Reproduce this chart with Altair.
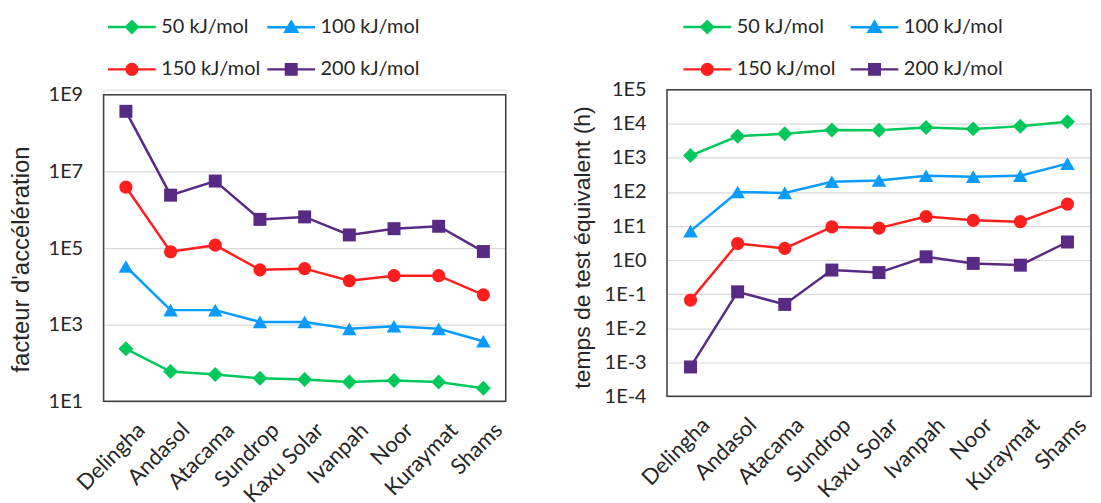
import altair as alt
import pandas as pd

sites = ["Delingha", "Andasol", "Atacama", "Sundrop", "Kaxu Solar",
         "Ivanpah", "Noor", "Kuraymat", "Shams"]
series = ["50 kJ/mol", "100 kJ/mol", "150 kJ/mol", "200 kJ/mol"]

# left panel: facteur d'accélération
accel_50 = [235, 60, 50, 40, 37, 32, 35, 32, 22]
accel_100 = [3.3e4, 2.4e3, 2.4e3, 1.18e3, 1.18e3, 780, 910, 780, 370]
accel_150 = [3.9e6, 8.0e4, 1.19e5, 2.7e4, 2.9e4, 1.4e4, 1.9e4, 1.9e4, 6.0e3]
accel_200 = [3.7e8, 2.4e6, 5.6e6, 5.6e5, 6.5e5, 2.2e5, 3.2e5, 3.7e5, 8.1e4]

# right panel: temps de test équivalent (h)
time_50 = [1170, 4300, 5130, 6600, 6500, 7800, 7100, 8500, 11500]
time_100 = [7.1, 100, 94, 200, 218, 300, 282, 300, 680]
time_150 = [0.067, 3.07, 2.2, 9.4, 8.7, 19, 14.7, 13.4, 44]
time_200 = [7.3e-4, 0.117, 0.05, 0.51, 0.43, 1.25, 0.8, 0.71, 3.4]

left_ticks = [1e1, 1e3, 1e5, 1e7, 1e9]
right_ticks = [1e-4, 1e-3, 1e-2, 1e-1, 1e0, 1e1, 1e2, 1e3, 1e4, 1e5]

colors = ["#00C85A", "#0A9BFF", "#FF1E1E", "#582A84"]
shapes = ["diamond", "triangle-up", "circle", "square"]
sizes = [225, 215, 175, 170]
legend_paths = [
    "M-1.6,0H1.6M-0.38,0L0,-0.38L0.38,0L0,0.38Z",
    "M-1.6,0H1.6M-0.4,0.3L0,-0.38L0.4,0.3Z",
    "M-1.6,0H1.6M-0.36,0A0.36,0.36,0,1,0,0.36,0A0.36,0.36,0,1,0,-0.36,0Z",
    "M-1.6,0H1.6M-0.35,-0.35H0.35V0.35H-0.35Z",
]

TXT = "#262626"
TICK_FONT = "Lato"
TITLE_FONT = "Liberation Sans"
FRAME = "#404040"


def panel(values, domain, ticks, title, title_size, title_y, lx, ly, colpad, width,
          height, top_gap, title_pad):
    rows = []
    for s, vals in zip(series, values):
        for i, (site, v) in enumerate(zip(sites, vals)):
            rows.append({"site": site, "series": s, "value": v, "idx": i})
    df = pd.DataFrame(rows)

    x = alt.X("site:N", sort=sites, title=None,
              scale=alt.Scale(type="point", padding=0.5),
              axis=alt.Axis(labelAngle=-45, labelAlign="right", labelBaseline="middle",
                            labelPadding=25, labelOffset=15, ticks=False, tickSize=0,
                            domain=False, grid=False, labelFont=TICK_FONT,
                            labelFontSize=22, labelColor=TXT, labelOverlap=False))
    yscale = alt.Scale(type="log", domain=domain, nice=False,
                       range=[height, top_gap])
    yaxis = alt.Axis(values=ticks,
                     labelExpr="'1E' + round(log(datum.value)/LN10)",
                     grid=True, gridColor="#D9D9D9", gridWidth=1.2,
                     domain=False, ticks=False, tickSize=0,
                     labelFont=TICK_FONT, labelFontSize=20, labelColor=TXT,
                     labelPadding=21, titleFont=TITLE_FONT, titleFontSize=title_size,
                     titleFontWeight="normal", titleColor=TXT,
                     titlePadding=title_pad, titleY=title_y)
    y = alt.Y("value:Q", title=title, scale=yscale, axis=yaxis)
    leg = alt.Legend(orient="none", legendX=lx, legendY=ly, direction="horizontal",
                     columns=2, title=None, symbolSize=900, symbolStrokeWidth=2.5,
                     symbolOpacity=1, labelFont=TICK_FONT, labelFontSize=20,
                     labelColor=TXT, labelOffset=13, rowPadding=15,
                     columnPadding=colpad, padding=0, labelLimit=300)
    color = alt.Color("series:N", scale=alt.Scale(domain=series, range=colors), legend=leg)
    stroke = alt.Stroke("series:N", scale=alt.Scale(domain=series, range=colors), legend=leg)
    shape = alt.Shape("series:N", scale=alt.Scale(domain=series, range=legend_paths), legend=leg)

    # plot-area frame, spanning the y domain through the y scale
    frame = alt.Chart(pd.DataFrame({"f": [0]})).mark_rect(
        fillOpacity=0, stroke=FRAME, strokeWidth=1.5
    ).encode(
        x=alt.value(0), x2=alt.value("width"),
        y=alt.Y(datum=domain[1], title=title, scale=yscale, axis=yaxis),
        y2=alt.Y2(datum=domain[0]),
    )

    base = alt.Chart(df)
    layers = [frame, base.mark_line(strokeWidth=2.5).encode(
        x=x, y=y, color=color, order=alt.Order("idx:Q"))]
    for s, shp, sz in zip(series, shapes, sizes):
        layers.append(
            base.transform_filter(alt.datum.series == s)
            .mark_point(filled=True, opacity=1, shape=shp, size=sz)
            .encode(x=x, y=y, color=color)
        )
    layers.append(
        base.transform_filter("datum.value < 0")
        .mark_point(filled=True, opacity=1)
        .encode(color=color, stroke=stroke, shape=shape)
    )
    return alt.layer(*layers).properties(width=width, height=height)


left = panel([accel_50, accel_100, accel_150, accel_200], [1e1, 1e9], left_ticks,
             "facteur d'accélération", 24, 170, 12, -80, 1, 404, 313, 5, 15)
right = panel([time_50, time_100, time_150, time_200], [1e-4, 1e5], right_ticks,
              "temps de test équivalent (h)", 23, 158, 24, -80, 9, 426, 308, 0, 10)

chart = (
    alt.hconcat(left, right, spacing=63)
    .resolve_scale(x="independent", y="independent")
    .resolve_legend(color="independent", stroke="independent", shape="independent")
    .properties(padding={"left": 0, "top": 0, "right": 0, "bottom": 0})
    .configure_view(stroke="transparent")
    .configure(background="white")
)

chart.save("out.html", embed_options={"renderer": "svg", "actions": False})
